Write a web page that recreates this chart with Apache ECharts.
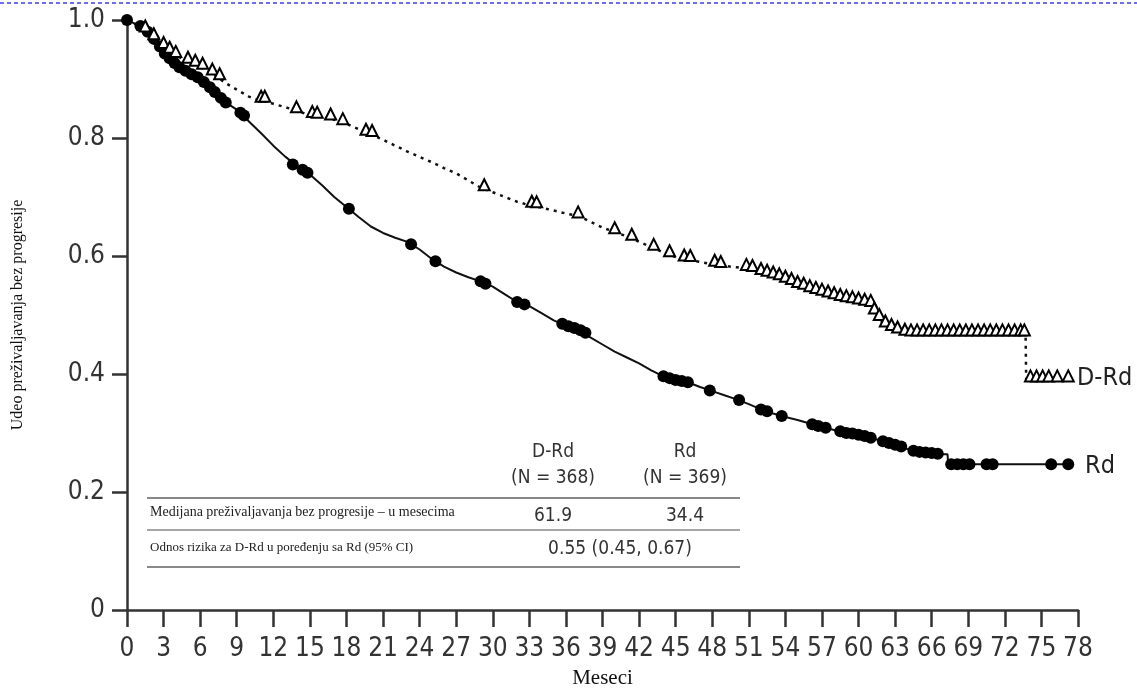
<!DOCTYPE html>
<html><head><meta charset="utf-8">
<script src="https://cdn.jsdelivr.net/npm/echarts@6/dist/echarts.min.js"></script>
<style>html,body{margin:0;padding:0;background:#fff}#c{width:1137px;height:690px}</style>
</head><body><div id="c"></div>
<script>
const xTicks = [0,3,6,9,12,15,18,21,24,27,30,33,36,39,42,45,48,51,54,57,60,63,66,69,72,75,78];
const yTicks = [0,0.2,0.4,0.6,0.8,1.0];

const drdCurve = [[0,1],[0.5,0.995],[1,0.99],[1.5,0.983],[2,0.972],[2.5,0.962],[3,0.955],[3.5,0.947],[4,0.94],[4.5,0.935],[5,0.93],[5.5,0.925],[6,0.92],[6.5,0.915],[7,0.91],[7.5,0.902],[8,0.894],[8.5,0.888],[9,0.882],[9.5,0.876],[10,0.87],[10.5,0.866],[11,0.864],[12,0.858],[13,0.852],[14,0.846],[15,0.838],[16,0.835],[17,0.831],[18,0.824],[19,0.815],[20,0.806],[21,0.797],[22,0.787],[23,0.777],[24,0.768],[25,0.759],[26,0.749],[27,0.74],[28,0.728],[29,0.716],[30,0.708],[31,0.7],[32,0.692],[33,0.686],[34,0.682],[35,0.677],[36,0.672],[37,0.668],[38,0.658],[39,0.648],[40,0.641],[41,0.633],[42,0.624],[43,0.615],[44,0.606],[45,0.598],[46,0.594],[47,0.59],[48,0.586],[49,0.583],[50,0.581],[51,0.578],[52,0.572],[53,0.566],[54,0.559],[55,0.55],[56,0.543],[57,0.537],[58,0.531],[59,0.526],[60,0.522],[61,0.518],[61.5,0.5],[62,0.485],[62.5,0.478],[63.5,0.472],[64,0.468],[73.7,0.468],[73.75,0.39],[77.2,0.39]];

const drdCensor = [[1.5,0.983],[2.2,0.97],[3,0.955],[3.5,0.947],[4,0.94],[5,0.93],[5.6,0.925],[6.2,0.92],[7,0.91],[7.6,0.902],[11,0.864],[11.3,0.864],[13.9,0.846],[15.2,0.838],[15.6,0.837],[16.7,0.834],[17.7,0.826],[19.6,0.808],[20.1,0.806],[29.3,0.714],[33.2,0.686],[33.6,0.685],[37,0.668],[40,0.641],[41.4,0.63],[43.2,0.613],[44.5,0.602],[45.7,0.595],[46.2,0.594],[48.2,0.586],[48.7,0.584],[50.8,0.579],[51.3,0.577],[52,0.572],[52.5,0.569],[53,0.566],[53.5,0.563],[54,0.559],[54.5,0.555],[55,0.55],[55.5,0.547],[56,0.543],[56.5,0.54],[57,0.537],[57.5,0.534],[58,0.531],[58.5,0.528],[59,0.526],[59.5,0.524],[60,0.522],[60.5,0.52],[61,0.518],[61.3,0.505],[61.7,0.494],[62.2,0.483],[62.7,0.477],[63.2,0.473],[63.8,0.469],[64.3,0.468],[64.8,0.468],[65.3,0.468],[65.8,0.468],[66.3,0.468],[66.8,0.468],[67.3,0.468],[67.8,0.468],[68.3,0.468],[68.8,0.468],[69.3,0.468],[69.8,0.468],[70.3,0.468],[70.8,0.468],[71.3,0.468],[71.8,0.468],[72.3,0.468],[72.8,0.468],[73.3,0.468],[73.6,0.468],[74.1,0.39],[74.6,0.39],[75.1,0.39],[75.6,0.39],[76.3,0.39],[77.2,0.39]];

const rdCurve = [[0,1],[0.5,0.995],[1,0.99],[1.5,0.982],[2,0.972],[2.5,0.958],[3,0.945],[3.5,0.935],[4,0.925],[4.5,0.918],[5,0.912],[5.5,0.906],[6,0.9],[6.5,0.892],[7,0.882],[7.5,0.872],[8,0.862],[8.5,0.855],[9,0.848],[9.5,0.84],[10,0.828],[11,0.808],[12,0.787],[13,0.768],[14,0.752],[15,0.738],[16,0.72],[17,0.7],[18,0.683],[19,0.666],[20,0.65],[21,0.639],[22,0.631],[23,0.624],[24,0.611],[25,0.595],[26,0.582],[27,0.572],[28,0.564],[29,0.557],[30,0.548],[31,0.535],[32,0.522],[33,0.515],[34,0.503],[35,0.491],[36,0.482],[37,0.475],[38,0.462],[39,0.45],[40,0.438],[41,0.428],[42,0.418],[43,0.406],[44,0.396],[45,0.39],[46,0.386],[47,0.378],[48,0.371],[49,0.364],[50,0.357],[51,0.349],[52,0.34],[53,0.333],[54,0.327],[55,0.322],[56,0.316],[57,0.31],[58,0.305],[59,0.3],[60,0.297],[61,0.292],[62,0.286],[63,0.28],[64,0.273],[65,0.268],[66,0.266],[67,0.264],[67.3,0.264],[67.35,0.247],[77.4,0.247]];

const rdCensor = [[0,1],[1.1,0.99],[1.7,0.98],[2.2,0.968],[2.7,0.955],[3.1,0.943],[3.5,0.935],[3.9,0.927],[4.3,0.92],[4.8,0.914],[5.3,0.908],[5.8,0.903],[6.3,0.895],[6.8,0.886],[7.2,0.878],[7.7,0.868],[8.1,0.86],[9.3,0.843],[9.6,0.838],[13.6,0.755],[14.4,0.746],[14.8,0.741],[18.2,0.68],[23.3,0.62],[25.3,0.591],[29,0.557],[29.4,0.553],[32,0.522],[32.6,0.518],[35.7,0.485],[36.2,0.481],[36.7,0.478],[37.2,0.474],[37.6,0.47],[44,0.396],[44.5,0.393],[45,0.39],[45.5,0.388],[46,0.386],[47.8,0.372],[50.2,0.356],[52,0.34],[52.5,0.337],[53.7,0.329],[56.2,0.315],[56.7,0.312],[57.3,0.309],[58.5,0.303],[59,0.3],[59.5,0.299],[60,0.297],[60.5,0.295],[61,0.292],[62,0.286],[62.5,0.283],[63,0.28],[63.5,0.277],[64.5,0.27],[65,0.268],[65.5,0.267],[66,0.266],[66.5,0.265],[67.6,0.247],[68.1,0.247],[68.6,0.247],[69.1,0.247],[70.5,0.247],[71,0.247],[75.8,0.247],[77.2,0.247]];

const tableHead = ['D-Rd','(N = 368)','Rd','(N = 369)'];
const rowLabels = ['Medijana preživaljavanja bez progresije – u mesecima','Odnos rizika za D-Rd u poređenju sa Rd (95% CI)'];
const medianVals = ['61.9','34.4'];
const hrText = '0.55 (0.45, 0.67)';

const narrow = '"DejaVu Sans Condensed","Liberation Sans Narrow",sans-serif';
const serif = '"Liberation Serif","DejaVu Serif",serif';

const chart = echarts.init(document.getElementById('c'));
chart.setOption({
  animation: false,
  backgroundColor: '#fff',
  grid: {left: 127, right: 59, top: 20, bottom: 80, containLabel: false, outerBoundsMode: 'none'},
  xAxis: {
    type: 'value', min: 0, max: 78, interval: 3,
    name: 'Meseci', nameLocation: 'middle', nameGap: 58,
    nameTextStyle: {fontFamily: serif, fontSize: 21, color: '#111'},
    axisLine: {lineStyle: {color: '#333', width: 2.5}},
    axisTick: {show: true, length: 17, lineStyle: {color: '#333', width: 2.5}},
    axisLabel: {margin: 26, fontFamily: narrow, fontSize: 26, color: '#333',
      formatter: v => xTicks.includes(v) ? String(v) : ''},
    splitLine: {show: false}
  },
  yAxis: {
    type: 'value', min: 0, max: 1, interval: 0.2,
    name: 'Udeo preživaljavanja bez progresije', nameLocation: 'middle', nameGap: 101,
    nameTextStyle: {fontFamily: serif, fontSize: 16, color: '#111'},
    axisLine: {show: true, lineStyle: {color: '#333', width: 2.5}},
    axisTick: {show: true, length: 15, lineStyle: {color: '#333', width: 2.5}},
    axisLabel: {margin: 22, fontFamily: narrow, fontSize: 26, color: '#333',
      formatter: v => { const t = yTicks.find(k => Math.abs(k - v) < 1e-6); return t === undefined ? '' : (t === 0 ? '0' : t.toFixed(1)); }},
    splitLine: {show: false}
  },
  series: [
    {type: 'line', name: 'Rd', data: rdCurve, showSymbol: false, symbol: 'none',
      lineStyle: {color: '#111', width: 2}, z: 3},
    {type: 'scatter', name: 'Rd cens', data: rdCensor, symbol: 'circle', symbolSize: 12,
      itemStyle: {color: '#000', opacity: 1}, z: 4},
    {type: 'line', name: 'D-Rd', data: drdCurve, showSymbol: false, symbol: 'none',
      lineStyle: {color: '#111', width: 2.5, type: [3, 5]}, z: 3},
    {type: 'scatter', name: 'D-Rd cens', data: drdCensor, symbol: 'triangle', symbolSize: 11,
      symbolOffset: [0, -4],
      itemStyle: {color: '#fff', borderColor: '#000', borderWidth: 2, opacity: 1}, z: 5}
  ],
  graphic: [
    {type: 'line', shape: {x1: 0, y1: 3, x2: 1137, y2: 3}, style: {stroke: '#3b3bff', lineWidth: 1.5, lineDash: [4, 3]}},
    {type: 'text', x: 1077, y: 378, style: {text: 'D-Rd', font: '25px ' + narrow, fill: '#222', textVerticalAlign: 'middle'}},
    {type: 'text', x: 1085, y: 466, style: {text: 'Rd', font: '25px ' + narrow, fill: '#222', textVerticalAlign: 'middle'}},
    {type: 'text', x: 553, y: 452, style: {text: tableHead[0], font: '19px ' + narrow, fill: '#333', textAlign: 'center', textVerticalAlign: 'middle'}},
    {type: 'text', x: 553, y: 478, style: {text: tableHead[1], font: '19px ' + narrow, fill: '#333', textAlign: 'center', textVerticalAlign: 'middle'}},
    {type: 'text', x: 685, y: 452, style: {text: tableHead[2], font: '19px ' + narrow, fill: '#333', textAlign: 'center', textVerticalAlign: 'middle'}},
    {type: 'text', x: 685, y: 478, style: {text: tableHead[3], font: '19px ' + narrow, fill: '#333', textAlign: 'center', textVerticalAlign: 'middle'}},
    {type: 'line', shape: {x1: 147, y1: 498, x2: 740, y2: 498}, style: {stroke: '#888', lineWidth: 2}},
    {type: 'text', x: 150, y: 512, style: {text: rowLabels[0], font: '14px ' + serif, fill: '#222', textVerticalAlign: 'middle'}},
    {type: 'text', x: 553, y: 516, style: {text: medianVals[0], font: '19px ' + narrow, fill: '#333', textAlign: 'center', textVerticalAlign: 'middle'}},
    {type: 'text', x: 685, y: 516, style: {text: medianVals[1], font: '19px ' + narrow, fill: '#333', textAlign: 'center', textVerticalAlign: 'middle'}},
    {type: 'line', shape: {x1: 147, y1: 530, x2: 740, y2: 530}, style: {stroke: '#888', lineWidth: 1.5}},
    {type: 'text', x: 150, y: 548, style: {text: rowLabels[1], font: '13px ' + serif, fill: '#222', textVerticalAlign: 'middle'}},
    {type: 'text', x: 620, y: 549, style: {text: hrText, font: '19px ' + narrow, fill: '#333', textAlign: 'center', textVerticalAlign: 'middle'}},
    {type: 'line', shape: {x1: 147, y1: 567, x2: 740, y2: 567}, style: {stroke: '#888', lineWidth: 2}}
  ]
});
</script></body></html>
